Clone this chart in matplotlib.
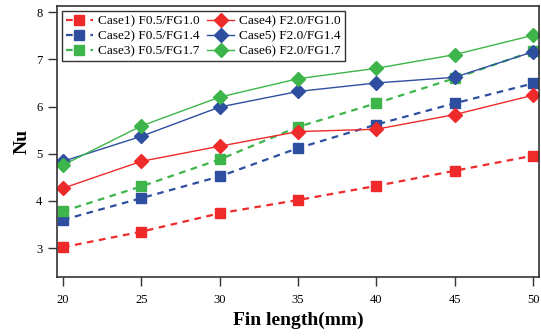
import matplotlib
matplotlib.use("Agg")
import matplotlib.pyplot as plt

plt.rcParams["font.family"] = ["Liberation Serif", "DejaVu Serif"]

# Fin length (mm)
fin_length = [20, 25, 30, 35, 40, 45, 50]

# Nusselt number for each case
case1 = [3.02, 3.35, 3.74, 4.02, 4.32, 4.64, 4.96]
case2 = [3.60, 4.06, 4.52, 5.12, 5.62, 6.07, 6.49]
case3 = [3.78, 4.31, 4.88, 5.57, 6.07, 6.60, 7.17]
case4 = [4.27, 4.84, 5.16, 5.47, 5.52, 5.83, 6.24]
case5 = [4.84, 5.37, 5.99, 6.32, 6.50, 6.62, 7.16]
case6 = [4.76, 5.59, 6.20, 6.59, 6.81, 7.10, 7.51]

labels = ["Case1) F0.5/FG1.0", "Case2) F0.5/FG1.4", "Case3) F0.5/FG1.7",
          "Case4) F2.0/FG1.0", "Case5) F2.0/FG1.4", "Case6) F2.0/FG1.7"]

red = "#ee2a2a"
blue = "#2e4ea0"
green = "#3db54a"

fig = plt.figure(figsize=(5.41, 3.36), dpi=100)
ax = fig.add_axes([57 / 541, 1 - 277 / 336, 482 / 541, 271 / 336])

# dashed lines with squares (F0.5)
for vals, c, lab in zip([case1, case2, case3], [red, blue, green], labels[:3]):
    ax.plot(fin_length, vals, color=c, linestyle=(0, (3, 2.5)), linewidth=1.6,
            marker="s", markersize=7, label=lab)

# solid lines with diamonds (F2.0)
for vals, c, lab in zip([case4, case5, case6], [red, blue, green], labels[3:]):
    ax.plot(fin_length, vals, color=c, linestyle="-", linewidth=1.0,
            marker="D", markersize=7.5, label=lab)

ax.set_xlim(19.62, 50.38)
ax.set_ylim(2.39, 8.13)
ax.set_xticks(fin_length)
ax.set_yticks([3, 4, 5, 6, 7, 8])
ax.tick_params(direction="out", length=6.5, width=1, labelsize=9, color="#333333")
ax.tick_params(axis="x", pad=6)
ax.tick_params(axis="y", pad=4)

for sp in ax.spines.values():
    sp.set_linewidth(1.2)
    sp.set_color("#333333")

ax.set_xlabel("Fin length(mm)", fontsize=14, fontweight="bold", labelpad=4)
ax.set_ylabel("Nu", fontsize=14, fontweight="bold", labelpad=4)

leg = ax.legend(loc="upper left", ncol=2, fontsize=9.5, frameon=True,
                fancybox=False, edgecolor="black", borderpad=0.3,
                handlelength=2.0, columnspacing=0.6, handletextpad=0.4,
                labelspacing=0.2, borderaxespad=0.4)
leg.get_frame().set_linewidth(1.0)

fig.savefig("out.png", dpi=100)
